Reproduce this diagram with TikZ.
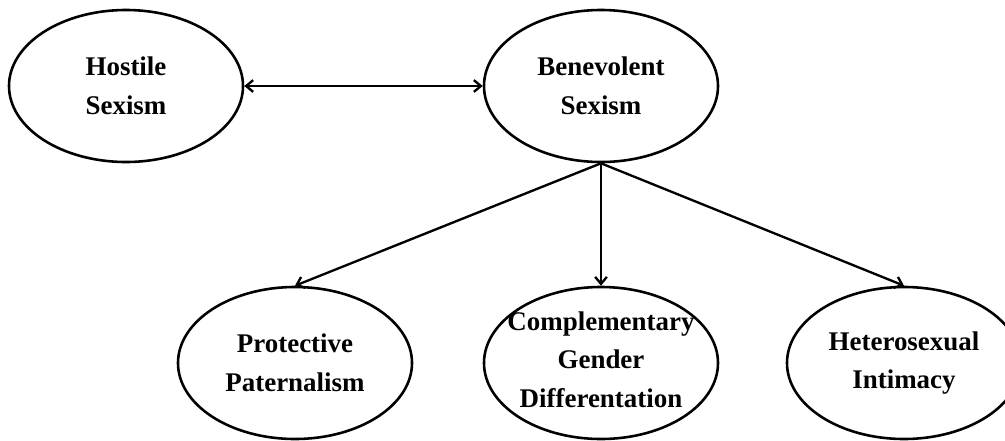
\documentclass[tikz,border=0pt]{standalone}
\usepackage{fontspec}
\setmainfont{Liberation Serif}
\usetikzlibrary{shapes.geometric,arrows.meta}
\begin{document}
\begin{tikzpicture}[x=0.03cm,y=-0.03cm,
  construct/.style={ellipse, draw, line width=2.2pt, minimum width=7.02cm, minimum height=4.56cm, inner sep=0pt},
  txt/.style={align=center, font=\bfseries\fontsize{23}{33}\selectfont},
  >={Straight Barb[length=6pt,width=10pt]}]
\useasboundingbox (0,0) rectangle (1005,440);
\node [construct, label={[txt]center:Hostile\\Sexism}] (hs) at (126,86) {};
\node [construct, label={[txt]center:Benevolent\\Sexism}] (bs) at (601,86) {};
\node [construct, label={[txt]center:Protective\\Paternalism}] (pp) at (295,363) {};
\node [construct, label={[txt,yshift=3pt]center:Complementary\\Gender\\Differentation}] (cgd) at (601,363) {};
\node [construct, label={[txt]center:Heterosexual\\Intimacy}] (hi) at (904,363) {};
\draw [line width=2pt, <->] (hs.east) -- (bs.west);
\draw [line width=2pt, ->] (bs.south) -- (pp.north);
\draw [line width=2pt, ->] (bs.south) -- (cgd.north);
\draw [line width=2pt, ->] (bs.south) -- (hi.north);
\end{tikzpicture}
\end{document}
